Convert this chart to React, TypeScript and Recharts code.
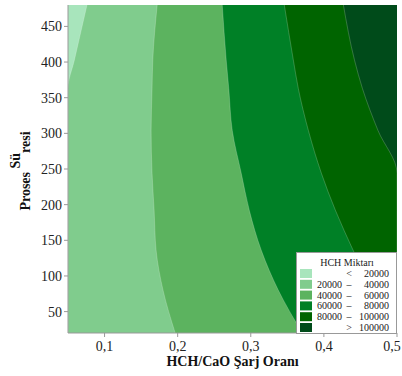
import React from "react";
import { ComposedChart, Area, XAxis, YAxis, CartesianGrid } from "recharts";

const yLevels = [20, 80, 136, 192, 244, 304, 363, 403, 480];

// HCH/CaO ratio of each contour edge at those levels
const edge20k = [0.05, 0.05, 0.05, 0.05, 0.05, 0.05, 0.05, 0.0588, 0.076];
const edge40k = [0.1966, 0.18, 0.1705, 0.1678, 0.165, 0.1637, 0.165, 0.166, 0.172];
const edge60k = [0.3705, 0.3377, 0.3144, 0.298, 0.287, 0.2747, 0.2699, 0.2664, 0.261];
const edge80k = [0.494, 0.466, 0.44, 0.4158, 0.3966, 0.3788, 0.365, 0.3582, 0.3459];
const edge100k = [0.5, 0.5, 0.5, 0.5, 0.5, 0.474, 0.4527, 0.4418, 0.4267];

const bandColors = ["#a8e5bc", "#80cc8d", "#5cb35f", "#008026", "#006400", "#004b1a"];
const legendLow = ["", "20000", "40000", "60000", "80000", ""];
const legendSign = ["<", "–", "–", "–", "–", ">"];
const legendHigh = ["20000", "40000", "60000", "80000", "100000", "100000"];

const xTicks = [0.1, 0.2, 0.3, 0.4, 0.5];
const yTicks = [50, 100, 150, 200, 250, 300, 350, 400, 450];
const X_DOMAIN = [0.05, 0.5];
const Y_DOMAIN = [20, 480];

const data = yLevels.map((y, i) => ({
  y,
  e1: edge20k[i],
  e2: edge40k[i],
  e3: edge60k[i],
  e4: edge80k[i],
  e5: edge100k[i],
}));

const serif = "Liberation Serif, Times New Roman, serif";
const axisGrey = "#999";

function XTick(props: any) {
  const { x, y, payload } = props;
  return (
    <text x={x} y={y + 12} textAnchor="middle" fontFamily={serif} fontSize={14} fill="#222">
      {Number(payload.value).toFixed(1).replace(".", ",")}
    </text>
  );
}

function YTick(props: any) {
  const { x, y, payload } = props;
  return (
    <text x={x} y={y + 5} textAnchor="end" fontFamily={serif} fontSize={14} fill="#222">
      {payload.value}
    </text>
  );
}

function HchLegend() {
  return (
    <svg width={101} height={82} style={{ position: "absolute", left: 296, top: 252 }}>
      <rect x={0.5} y={0.5} width={100} height={81} fill="#fff" stroke={axisGrey} />
      <text x={51} y={14} textAnchor="middle" fontFamily={serif} fontSize={10} fill="#222">
        HCH Miktarı
      </text>
      {bandColors.map((c, i) => {
        const cy = 21.5 + i * 10.8;
        return (
          <g key={i}>
            <rect x={4} y={cy - 4.5} width={12} height={9} fill={c} />
            <text x={21} y={cy + 3.5} fontFamily={serif} fontSize={10} fill="#222">{legendLow[i]}</text>
            <text x={53} y={cy + 3.5} textAnchor="middle" fontFamily={serif} fontSize={10} fill="#222">{legendSign[i]}</text>
            <text x={93} y={cy + 3.5} textAnchor="end" fontFamily={serif} fontSize={10} fill="#222">{legendHigh[i]}</text>
          </g>
        );
      })}
    </svg>
  );
}

export default function App() {
  return (
    <div style={{ position: "absolute", left: 0, top: 0, width: 402, height: 376 }}>
      <ComposedChart
        layout="vertical"
        width={402}
        height={376}
        data={data}
        margin={{ top: 5, right: 5, left: 8, bottom: 3 }}
      >
        <CartesianGrid horizontal={false} vertical={false} fill={bandColors[5]} fillOpacity={1} />
        <Area type="monotone" dataKey="e5" fill={bandColors[4]} fillOpacity={1} stroke="#fff" strokeOpacity={0.25} strokeWidth={0.8} isAnimationActive={false} />
        <Area type="monotone" dataKey="e4" fill={bandColors[3]} fillOpacity={1} stroke="#fff" strokeOpacity={0.25} strokeWidth={0.8} isAnimationActive={false} />
        <Area type="monotone" dataKey="e3" fill={bandColors[2]} fillOpacity={1} stroke="#fff" strokeOpacity={0.25} strokeWidth={0.8} isAnimationActive={false} />
        <Area type="monotone" dataKey="e2" fill={bandColors[1]} fillOpacity={1} stroke="#fff" strokeOpacity={0.25} strokeWidth={0.8} isAnimationActive={false} />
        <Area type="monotone" dataKey="e1" fill={bandColors[0]} fillOpacity={1} stroke="#fff" strokeOpacity={0.25} strokeWidth={0.8} isAnimationActive={false} />
        <XAxis
          type="number"
          domain={X_DOMAIN}
          ticks={xTicks}
          allowDataOverflow
          height={40}
          tickSize={4}
          stroke={axisGrey}
          tick={<XTick />}
          label={() => (
            <text x={232.5} y={366} textAnchor="middle" fontFamily={serif} fontWeight="bold" fontSize={14} fill="#111">
              HCH/CaO Şarj Oranı
            </text>
          )}
        />
        <XAxis xAxisId="top" orientation="top" type="number" domain={X_DOMAIN} height={0} tick={false} tickLine={false} stroke={axisGrey} />
        <YAxis
          type="number"
          dataKey="y"
          domain={Y_DOMAIN}
          ticks={yTicks}
          reversed
          allowDataOverflow
          width={60}
          tickSize={4}
          stroke={axisGrey}
          tick={<YTick />}
          label={() => (
            <text x={30} y={171} transform="rotate(-90 30 171)" textAnchor="middle" fontFamily={serif} fontWeight="bold" fontSize={14} fill="#111">
              Proses <tspan dy={-10}>Sü</tspan><tspan dy={10}>resi</tspan>
            </text>
          )}
        />
        <YAxis yAxisId="right" orientation="right" type="number" dataKey="y" domain={Y_DOMAIN} reversed width={0} tick={false} tickLine={false} stroke={axisGrey} />
      </ComposedChart>
      <HchLegend />
    </div>
  );
}
